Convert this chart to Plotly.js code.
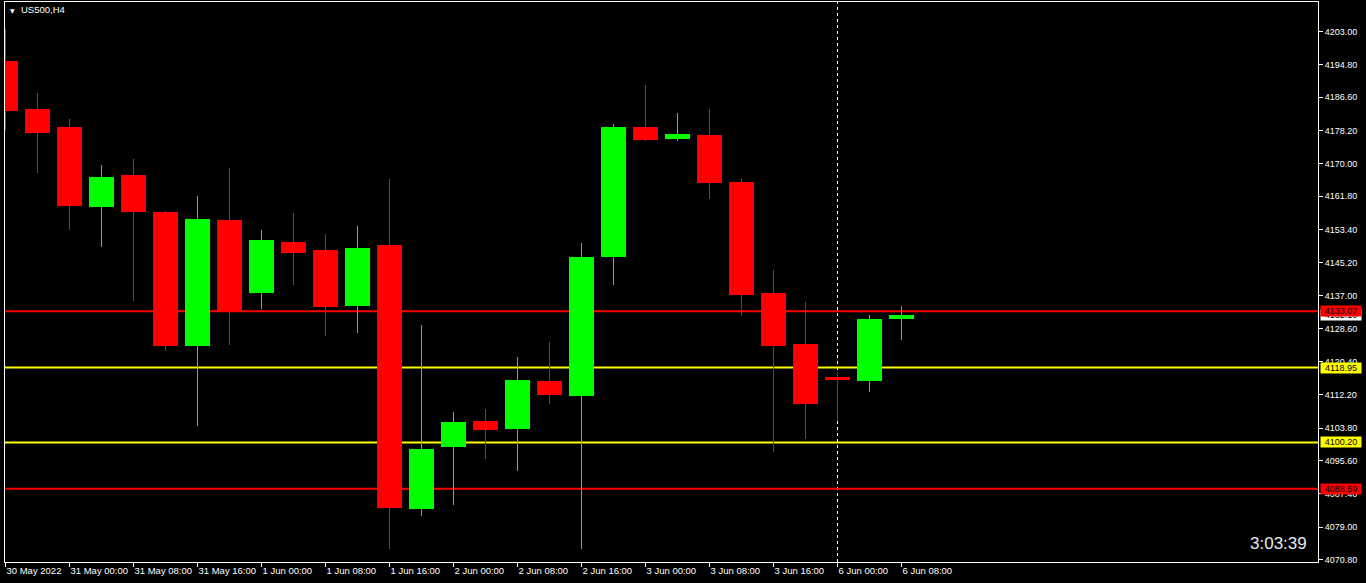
<!DOCTYPE html>
<html>
<head>
<meta charset="utf-8">
<script src="https://cdn.plot.ly/plotly-3.0.1.min.js"></script>
<style>
html,body{margin:0;padding:0;background:#000;}
#chart{width:1366px;height:583px;}
</style>
</head>
<body>
<div id="chart"></div>
<script>
// ---- data (US500, H4) ----
const times = ["30 May 16:00","30 May 20:00","31 May 00:00","31 May 04:00","31 May 08:00","31 May 12:00","31 May 16:00","31 May 20:00",
  "1 Jun 00:00","1 Jun 04:00","1 Jun 08:00","1 Jun 12:00","1 Jun 16:00","1 Jun 20:00",
  "2 Jun 00:00","2 Jun 04:00","2 Jun 08:00","2 Jun 12:00","2 Jun 16:00","2 Jun 20:00",
  "3 Jun 00:00","3 Jun 04:00","3 Jun 08:00","3 Jun 12:00","3 Jun 16:00","3 Jun 20:00",
  "6 Jun 00:00","6 Jun 04:00","6 Jun 08:00"];
const opens  = [4195.67,4183.63,4179.15,4159.13,4167.14,4157.88,4124.35,4155.88,4137.62,4150.37,4148.37,4134.36,4149.62,4083.56,4099.07,4105.58,4103.58,4115.59,4111.84,4146.62,4179.15,4176.15,4177.15,4165.39,4137.62,4124.85,4116.59,4115.59,4131.10];
const highs  = [4203.70,4187.66,4181.15,4169.64,4171.14,4158.13,4161.88,4168.88,4153.37,4157.63,4152.37,4154.38,4166.14,4129.60,4107.83,4108.58,4121.60,4125.35,4150.12,4179.90,4189.66,4182.65,4183.63,4166.14,4143.37,4135.36,4117.84,4132.10,4134.36];
const lows   = [4178.40,4167.64,4153.38,4149.13,4135.61,4123.10,4104.33,4124.60,4133.60,4139.61,4126.85,4127.60,4073.55,4081.81,4084.56,4096.07,4093.07,4109.83,4073.55,4139.61,4175.65,4175.65,4161.13,4131.85,4097.82,4101.07,4105.58,4112.84,4125.85];
const closes = [4183.16,4177.65,4159.46,4166.64,4157.88,4124.35,4156.13,4133.10,4150.87,4147.62,4134.11,4148.87,4083.81,4098.57,4105.33,4103.33,4115.84,4112.09,4146.62,4179.15,4175.90,4177.40,4165.14,4137.11,4124.35,4109.83,4115.84,4131.10,4132.10];

const xTickIdx    = [0,2,4,6,8,10,12,14,16,18,20,22,24,26,28];
const xTickLabels = ["30 May 2022","31 May 00:00","31 May 08:00","31 May 16:00","1 Jun 00:00","1 Jun 08:00","1 Jun 16:00",
  "2 Jun 00:00","2 Jun 08:00","2 Jun 16:00","3 Jun 00:00","3 Jun 08:00","3 Jun 16:00","6 Jun 00:00","6 Jun 08:00"];
const yTickVals = [4203.00,4194.80,4186.60,4178.20,4170.00,4161.80,4153.40,4145.20,4137.00,4128.60,4120.40,4112.20,4103.80,4095.60,4087.40,4079.00,4070.80];

const levelPrices = [4133.07,4118.95,4100.20,4088.59];
const levelColors = ["#ff0000","#ffff00","#ffff00","#ff0000"];
const separatorIdx = 26;
const symbolTitle = "US500,H4";
const clockText = "3:03:39";

// ---- build ----
const UP = "#00ff00", DN = "#ff0000";
const idx = times.map((_, i) => i);
const isUp = idx.map(i => closes[i] >= opens[i]);

const bodyTrace = {
  type: "bar",
  x: idx,
  base: idx.map(i => Math.min(opens[i], closes[i])),
  y: idx.map(i => Math.abs(closes[i] - opens[i])),
  width: 25/32,
  marker: {color: idx.map(i => isUp[i] ? UP : DN), line: {width: 0}},
  hoverinfo: "skip",
  showlegend: false
};
function wicks(up) {
  const xs = [], ys = [];
  idx.forEach(i => { if (isUp[i] === up) { xs.push(i, i, null); ys.push(lows[i], highs[i], null); } });
  return {type: "scatter", mode: "lines", x: xs, y: ys, line: {color: up ? UP : DN, width: 1},
          hoverinfo: "skip", showlegend: false};
}

const shapes = [{
  type: "line", xref: "x", yref: "paper", x0: separatorIdx, x1: separatorIdx, y0: 0, y1: 1,
  line: {color: "#ffffff", width: 1, dash: "3px,3px"}, layer: "below"
}];
levelPrices.forEach((p, k) => shapes.push({
  type: "line", xref: "paper", yref: "y", x0: 0, x1: 1, y0: p, y1: p,
  line: {color: levelColors[k], width: 2}, layer: "below"
}));

const font = "Liberation Sans, Arial, sans-serif";
const annotations = [];
// current price label (white), drawn first
const last = closes[closes.length - 1];
annotations.push({
  xref: "paper", yref: "y", x: 1, y: last, xanchor: "left", yanchor: "middle", xshift: 2,
  text: last.toFixed(2), showarrow: false, bgcolor: "#ffffff", font: {family: font, size: 9, color: "#000"},
  width: 40, height: 10, borderpad: 0
});
levelPrices.forEach((p, k) => annotations.push({
  xref: "paper", yref: "y", x: 1, y: p, xanchor: "left", yanchor: "middle", xshift: 2,
  text: p.toFixed(2), showarrow: false, bgcolor: levelColors[k], font: {family: font, size: 9, color: "#000"},
  width: 40, height: 10, borderpad: 0
}));
annotations.push({
  xref: "paper", yref: "paper", x: 0, y: 1, xanchor: "left", yanchor: "middle", xshift: 3, yshift: -8,
  text: "▼", showarrow: false, font: {family: "DejaVu Sans, sans-serif", size: 6, color: "#ffffff"}
});
annotations.push({
  xref: "paper", yref: "paper", x: 0, y: 1, xanchor: "left", yanchor: "middle", xshift: 14, yshift: -7,
  text: symbolTitle, showarrow: false, font: {family: font, size: 9.5, color: "#ffffff"}
});
annotations.push({
  xref: "paper", yref: "paper", x: 1, y: 0, xanchor: "right", yanchor: "middle", xshift: -9, yshift: 19,
  text: clockText, showarrow: false, font: {family: font, size: 17, color: "#e8e8e8"}
});

const layout = {
  width: 1366, height: 583,
  margin: {l: 5, r: 48, t: 2, b: 21, pad: 0},
  paper_bgcolor: "#000000", plot_bgcolor: "#000000",
  showlegend: false,
  bargap: 0,
  xaxis: {
    range: [-0.015625, 41.015625], showgrid: false, zeroline: false,
    showline: true, mirror: true, linecolor: "#ffffff", linewidth: 1,
    tickmode: "array", tickvals: xTickIdx, ticktext: xTickLabels,
    ticks: "outside", ticklen: 4, tickcolor: "#ffffff", tickwidth: 1,
    ticklabelposition: "outside right", tickangle: 0, ticklabelstandoff: 0,
    tickfont: {family: font, size: 9.5, color: "#ffffff"}, fixedrange: true
  },
  yaxis: {
    side: "right", range: [4070.29, 4210.43], showgrid: false, zeroline: false,
    showline: true, mirror: true, linecolor: "#ffffff", linewidth: 1,
    tickmode: "array", tickvals: yTickVals, ticktext: yTickVals.map(v => v.toFixed(2)),
    ticks: "outside", ticklen: 4, tickcolor: "#ffffff", tickwidth: 1,
    tickfont: {family: font, size: 9, color: "#ffffff"}, fixedrange: true
  },
  shapes: shapes,
  annotations: annotations
};

Plotly.newPlot("chart", [wicks(true), wicks(false), bodyTrace], layout, {displayModeBar: false, staticPlot: true});
</script>
</body>
</html>
